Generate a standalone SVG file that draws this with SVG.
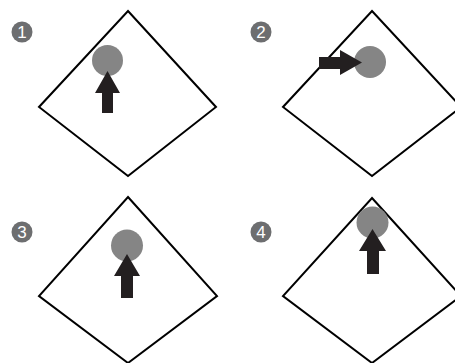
<svg xmlns="http://www.w3.org/2000/svg" width="455" height="363" viewBox="0 0 455 363">
<style>
.dia{fill:none;stroke:#000;stroke-width:2;stroke-linejoin:miter}
.ball{fill:#858585}
.arr{fill:#231f20}
.badge{fill:#6d6e70}
.num{fill:#fff;font-family:"Liberation Sans","DejaVu Sans",sans-serif;font-size:17px;text-anchor:middle}
</style>
<rect width="455" height="363" fill="#fff"/>
<g id="panel1">
<polygon class="dia" points="128,11 216,107 128,176 39,107"/>
<circle class="ball" cx="107.5" cy="60.5" r="15.5"/>
<polygon class="arr" points="107.5,71 120,93 113,93 113,113 102,113 102,93 95,93"/>
<circle class="badge" cx="22" cy="32" r="10.5"/>
<text class="num" x="22" y="38">1</text>
</g>
<g id="panel2">
<polygon class="dia" points="372,11 461,107 372,176 283,107"/>
<circle class="ball" cx="370" cy="62" r="16"/>
<polygon class="arr" points="362,62.5 340,50 340,57 319,57 319,69 340,69 340,75"/>
<circle class="badge" cx="261" cy="32" r="10.5"/>
<text class="num" x="261" y="38">2</text>
</g>
<g id="panel3">
<polygon class="dia" points="128,197 217,296 128,363 39,296"/>
<circle class="ball" cx="127" cy="245.5" r="16"/>
<polygon class="arr" points="127,254 140,276 133,276 133,298 121,298 121,276 114,276"/>
<circle class="badge" cx="22" cy="232" r="10.5"/>
<text class="num" x="22" y="238">3</text>
</g>
<g id="panel4">
<polygon class="dia" points="372,198 461,296 372,363 283,296"/>
<circle class="ball" cx="372.5" cy="222.5" r="16"/>
<polygon class="arr" points="372.5,229 386,251 379,251 379,274 367,274 367,251 359,251"/>
<circle class="badge" cx="261" cy="232" r="10.5"/>
<text class="num" x="261" y="238">4</text>
</g>
<g id="connectors"></g>
</svg>
